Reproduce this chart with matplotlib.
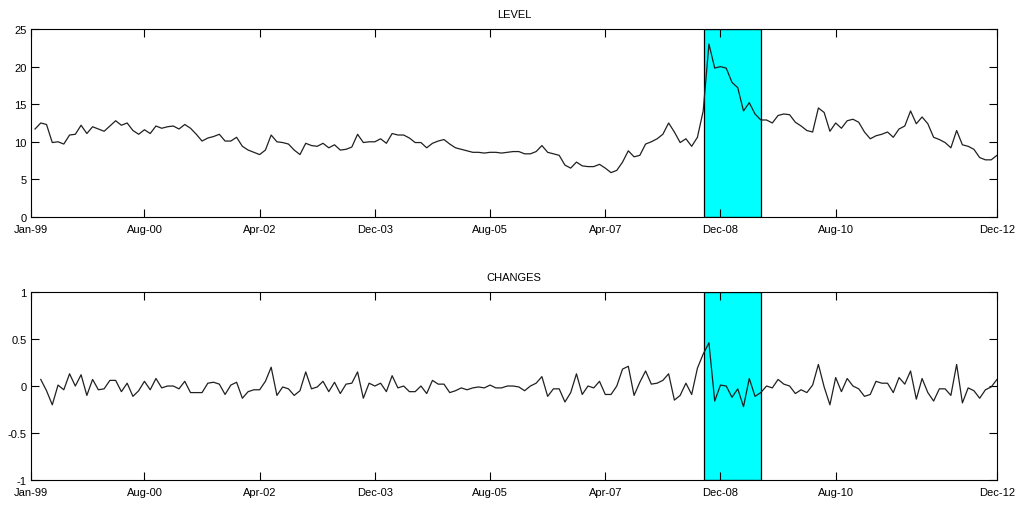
import matplotlib.pyplot as plt

# monthly data Jan-99 .. Dec-12 (168 months)
level = [11.7, 12.5, 12.3, 9.9, 10.0, 9.7, 10.9, 11.0, 12.2, 11.1,
         12.0, 11.7, 11.4, 12.1, 12.8, 12.2, 12.5, 11.5, 11.0, 11.6,
         11.1, 12.1, 11.8, 12.0, 12.1, 11.7, 12.3, 11.8, 11.0, 10.1,
         10.5, 10.7, 11.0, 10.1, 10.1, 10.6, 9.4, 8.9, 8.6, 8.3,
         8.9, 10.9, 10.0, 9.9, 9.7, 8.9, 8.3, 9.8, 9.5, 9.4,
         9.8, 9.2, 9.6, 8.9, 9.0, 9.3, 11.0, 9.9, 10.0, 10.0,
         10.4, 9.8, 11.1, 10.9, 10.9, 10.5, 9.9, 9.9, 9.2, 9.8,
         10.1, 10.3, 9.7, 9.2, 9.0, 8.8, 8.6, 8.6, 8.5, 8.6,
         8.6, 8.5, 8.6, 8.7, 8.7, 8.4, 8.4, 8.7, 9.5, 8.6,
         8.4, 8.2, 6.9, 6.5, 7.3, 6.8, 6.7, 6.7, 7.0, 6.5,
         5.9, 6.2, 7.3, 8.8, 8.0, 8.2, 9.7, 10.0, 10.4, 11.0,
         12.5, 11.3, 9.9, 10.4, 9.4, 10.6, 14.1, 23.0, 19.8, 20.0,
         19.8, 17.9, 17.2, 14.1, 15.2, 13.7, 12.9, 12.9, 12.5, 13.5,
         13.7, 13.6, 12.6, 12.1, 11.5, 11.3, 14.5, 13.9, 11.4, 12.5,
         11.8, 12.8, 13.0, 12.6, 11.3, 10.4, 10.8, 11.0, 11.3, 10.6,
         11.7, 12.1, 14.1, 12.4, 13.3, 12.4, 10.6, 10.3, 9.9, 9.2,
         11.5, 9.6, 9.4, 9.0, 7.9, 7.6, 7.6, 8.2]

# changes start at the second month (Feb-99)
changes = [0.07, -0.05, -0.20, 0.01, -0.04, 0.13, 0.00, 0.12, -0.10,
           0.07, -0.04, -0.03, 0.06, 0.06, -0.06, 0.03, -0.11, -0.05, 0.05,
           -0.04, 0.08, -0.02, 0.00, 0.00, -0.03, 0.05, -0.07, -0.07, -0.07,
           0.03, 0.04, 0.02, -0.09, 0.01, 0.04, -0.13, -0.06, -0.04, -0.04,
           0.05, 0.20, -0.10, -0.01, -0.03, -0.10, -0.05, 0.15, -0.03, -0.01,
           0.05, -0.06, 0.04, -0.08, 0.02, 0.03, 0.15, -0.13, 0.03, 0.00,
           0.03, -0.06, 0.11, -0.02, 0.00, -0.06, -0.06, 0.00, -0.08, 0.06,
           0.02, 0.02, -0.07, -0.05, -0.02, -0.04, -0.02, -0.01, -0.02, 0.01,
           -0.02, -0.02, 0.00, 0.00, -0.01, -0.05, 0.00, 0.03, 0.10, -0.11,
           -0.03, -0.03, -0.17, -0.07, 0.13, -0.09, 0.00, -0.02, 0.05, -0.09,
           -0.09, 0.00, 0.18, 0.21, -0.10, 0.04, 0.16, 0.02, 0.03, 0.06,
           0.13, -0.15, -0.10, 0.03, -0.09, 0.19, 0.34, 0.46, -0.16, 0.01,
           0.00, -0.12, -0.03, -0.22, 0.08, -0.11, -0.07, 0.00, -0.02, 0.07,
           0.02, 0.00, -0.08, -0.04, -0.07, 0.01, 0.23, -0.01, -0.20, 0.09,
           -0.06, 0.08, 0.00, -0.03, -0.11, -0.09, 0.05, 0.03, 0.03, -0.07,
           0.09, 0.02, 0.16, -0.14, 0.08, -0.07, -0.16, -0.03, -0.03, -0.10,
           0.23, -0.18, -0.02, -0.05, -0.13, -0.04, -0.01, 0.07]

tick_pos = [-0.7, 19, 39, 59, 79, 99, 119, 139, 167]
tick_labels = ["Jan-99", "Aug-00", "Apr-02", "Dec-03", "Aug-05",
               "Apr-07", "Dec-08", "Aug-10", "Dec-12"]
crisis = (116.1, 126.1)  # shaded period, in months since Jan-99

plt.rcParams['font.family'] = ['Liberation Sans', 'DejaVu Sans']
fig = plt.figure(figsize=(10.22, 5.06), dpi=100)
ax1 = fig.add_axes([0.0303, 0.5692, 0.9452, 0.3715])
ax2 = fig.add_axes([0.0303, 0.0494, 0.9452, 0.3715])


def style(ax, title, yticks, ylim):
    ax.axvspan(crisis[0], crisis[1], facecolor="#00ffff", edgecolor="black",
               linewidth=0.9, zorder=1)
    ax.set_xlim(tick_pos[0], tick_pos[-1])
    ax.set_ylim(*ylim)
    ax.set_xticks(tick_pos)
    ax.set_xticklabels(tick_labels)
    ax.set_yticks(yticks)
    ax.set_yticklabels([("%g" % t) for t in yticks])
    ax.tick_params(direction="in", length=6, width=0.8, labelsize=8,
                   top=True, right=True)
    ax.tick_params(axis="x", pad=5)
    ax.tick_params(axis="y", pad=3)
    # first x label sits a little left of the axis corner, as in the original
    ax.get_xticklabels()[0].set_horizontalalignment("right")
    ax.get_xticklabels()[0].set_x(tick_pos[0])
    ax.set_title(title, fontsize=8, pad=9)
    for s in ax.spines.values():
        s.set_linewidth(0.8)


style(ax1, "LEVEL", [0, 5, 10, 15, 20, 25], (0, 25))
ax1.plot(range(len(level)), level, color="#202020", linewidth=0.9, zorder=3)

style(ax2, "CHANGES", [-1, -0.5, 0, 0.5, 1], (-1, 1))
ax2.plot(range(1, len(changes) + 1), changes, color="#202020", linewidth=0.9,
         zorder=3)

# nudge "Jan-99" so it is centred slightly left of the corner
for ax in (ax1, ax2):
    lab = ax.get_xticklabels()[0]
    lab.set_horizontalalignment("center")

fig.savefig("out.png", dpi=100)
